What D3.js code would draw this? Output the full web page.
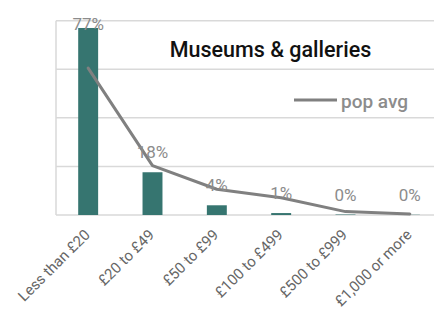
<!DOCTYPE html>
<html><head><meta charset="utf-8">
<script src="https://cdn.jsdelivr.net/npm/d3@7"></script>
<style>html,body{margin:0;padding:0;background:#fff;overflow:hidden}</style>
</head><body>
<script>
const categories = ["Less than £20","£20 to £49","£50 to £99","£100 to £499","£500 to £999","£1,000 or more"];
const museumValues = [0.77, 0.176, 0.04, 0.008, 0.002, 0.001];
const popAvgValues = [0.605, 0.203, 0.106, 0.071, 0.014, 0.004];
const yTicks = [0, 0.2, 0.4, 0.6, 0.8];
const title = "Museums & galleries";
const legendLabel = "pop avg";

const W = 434, H = 314;
const m = {left: 56, right: -8, top: 20.7, bottom: 99};
const svg = d3.select("body").append("svg").attr("width", W).attr("height", H);
const font = "Roboto, 'DejaVu Sans', sans-serif";

const x = d3.scaleBand().domain(categories).range([m.left, W - m.right]).paddingInner(0.69).paddingOuter(0.345);
const y = d3.scaleLinear().domain([0, 0.8]).range([H - m.bottom, m.top]);

// gridlines
svg.append("g").selectAll("line").data(yTicks).join("line")
  .attr("x1", m.left).attr("x2", W).attr("y1", d => y(d)).attr("y2", d => y(d))
  .attr("stroke", "#d9d9d9").attr("stroke-width", 1.5);
// left border
svg.append("line").attr("x1", m.left).attr("x2", m.left).attr("y1", y(0.8)).attr("y2", y(0))
  .attr("stroke", "#d9d9d9").attr("stroke-width", 1.5);

// bars
svg.append("g").selectAll("rect").data(museumValues).join("rect")
  .attr("x", (d, i) => x(categories[i])).attr("width", x.bandwidth())
  .attr("y", d => y(d)).attr("height", d => y(0) - y(d))
  .attr("fill", "#367570");

// line
const line = d3.line().x((d, i) => x(categories[i]) + x.bandwidth() / 2).y(d => y(d));
svg.append("path").datum(popAvgValues).attr("d", line)
  .attr("fill", "none").attr("stroke", "#808080").attr("stroke-width", 3).attr("stroke-linejoin", "round").attr("stroke-linecap", "round");

// value labels
const fmt = d3.format(".0%");
svg.append("g").selectAll("text").data(museumValues).join("text")
  .attr("x", (d, i) => x(categories[i]) + x.bandwidth() / 2)
  .attr("y", d => Math.max(y(d) - 14, m.top + 9))
  .attr("text-anchor", "middle").attr("font-family", font).attr("font-size", 17)
  .attr("fill", "#8c8c8c").text(d => fmt(d));

// x labels
svg.append("g").selectAll("text").data(categories).join("text")
  .attr("transform", d => `translate(${x(d) + x.bandwidth() / 2 - 1},${y(0) + 17}) rotate(-45)`)
  .attr("text-anchor", "end").attr("dy", "0.35em").attr("font-family", font).attr("font-size", 15)
  .attr("fill", "#666").text(d => d);

// title
svg.append("text").attr("x", 270.5).attr("y", 56.5).attr("text-anchor", "middle")
  .attr("font-family", font).attr("font-size", 21.5).attr("font-weight", 500).attr("fill", "#111").text(title);

// legend
svg.append("line").attr("x1", 294).attr("x2", 337).attr("y1", 100).attr("y2", 100)
  .attr("stroke", "#808080").attr("stroke-width", 3);
svg.append("text").attr("x", 341).attr("y", 107.5).attr("font-family", font).attr("font-size", 19)
  .attr("font-weight", 500).attr("fill", "#8c8c8c").text(legendLabel);
</script>
</body></html>
